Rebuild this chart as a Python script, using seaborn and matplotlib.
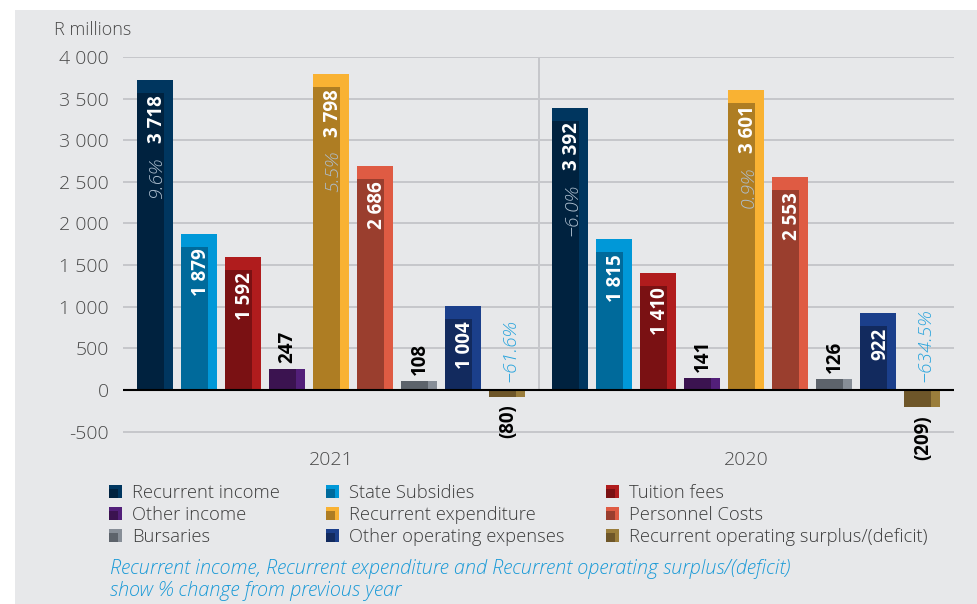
import matplotlib
matplotlib.use("Agg")
import matplotlib.pyplot as plt
from matplotlib.patches import Rectangle
from matplotlib.legend_handler import HandlerBase
import seaborn as sns
import pandas as pd

# ---------------- data ----------------
years = ["2021", "2020"]
categories = ["Recurrent income", "State Subsidies", "Tuition fees", "Other income",
              "Recurrent expenditure", "Personnel Costs", "Bursaries",
              "Other operating expenses", "Recurrent operating surplus/(deficit)"]
values_2021 = [3718, 1879, 1592, 247, 3798, 2686, 108, 1004, -80]
values_2020 = [3392, 1815, 1410, 141, 3601, 2553, 126, 922, -209]
value_labels_2021 = ["3 718", "1 879", "1 592", "247", "3 798", "2 686", "108", "1 004", "(80)"]
value_labels_2020 = ["3 392", "1 815", "1 410", "141", "3 601", "2 553", "126", "922", "(209)"]
pct_2021 = ["9.6%", None, None, None, "5.5%", None, None, None, "\u221261.6%"]
pct_2020 = ["\u22126.0%", None, None, None, "0.9%", None, None, None, "\u2212634.5%"]
yticks = [-500, 0, 500, 1000, 1500, 2000, 2500, 3000, 3500, 4000]
ytick_labels = ["-500", "0", "500", "1 000", "1 500", "2 000", "2 500", "3 000", "3 500", "4 000"]

light_colors = ["#00365f", "#0098d8", "#b01c1d", "#521f79", "#f9b233",
                "#df5b43", "#878e97", "#1b3f8b", "#9a7d3b"]
dark_colors = ["#00223f", "#006a9b", "#7a1113", "#3b1350", "#ae7d23",
               "#9a3e2e", "#5d636b", "#122a5e", "#6e5629"]

BG = "#e7e8ea"
FONT = "Open Sans"
LW = "light"

df = pd.DataFrame({
    "year": [y for y in years for _ in categories],
    "category": categories * 2,
    "value": values_2021 + values_2020,
})

plt.rcParams["font.family"] = [FONT, "DejaVu Sans"]

fig = plt.figure(figsize=(9.77, 6.04), dpi=100)
fig.patch.set_facecolor("white")
fig.patches.append(Rectangle((15 / 977, 0), 1 - 15 / 977, 1 - 10 / 604,
                             transform=fig.transFigure, facecolor=BG,
                             edgecolor="none", zorder=-10))

ax = fig.add_axes([123 / 977, 1 - 441.6 / 604, (954 - 123) / 977, (441.6 - 57) / 604])
ax.set_facecolor("none")

sns.barplot(data=df, x="year", y="value", hue="category", order=years,
            hue_order=categories, palette=light_colors, saturation=1,
            width=0.954, gap=0.18, linewidth=0, errorbar=None, legend=False,
            ax=ax, zorder=3)

ax.set_xlim(-0.5, 1.5)
ax.set_ylim(-620, 4000)

px_per_unit = (441.6 - 57) / (4000 + 620)
band = 13 / px_per_unit

labels_by_year = {"2021": value_labels_2021, "2020": value_labels_2020}
pct_by_year = {"2021": pct_2021, "2020": pct_2020}
vals_by_year = {"2021": values_2021, "2020": values_2020}

VFS = 13.5
PFS = 14

containers = list(ax.containers)
for ci, cont in enumerate(containers):
    for yi, bar in enumerate(cont):
        yr = years[yi]
        v = vals_by_year[yr][ci]
        x0 = bar.get_x()
        w = bar.get_width()
        top = v - band if v > 500 else v
        ax.bar(x0, top, width=w * 0.75, align="edge", color=dark_colors[ci],
               linewidth=0, zorder=4)
        xc = x0 + w / 2
        lab = labels_by_year[yr][ci]
        pct = pct_by_year[yr][ci]
        if v > 500:
            ax.annotate(lab, (xc, v), xytext=(2, -15), textcoords="offset pixels",
                        rotation=90, ha="center", va="top", color="white",
                        fontsize=VFS, fontweight="bold", zorder=6)
            if pct:
                ax.annotate(pct, (xc, v), xytext=(2, -77), textcoords="offset pixels",
                            rotation=90, ha="center", va="top", color="#aebfcf",
                            fontsize=PFS, fontstyle="italic", fontweight=LW, zorder=6)
        elif v >= 0:
            ax.annotate(lab, (xc, v), xytext=(1, 6), textcoords="offset pixels",
                        rotation=90, ha="center", va="bottom", color="black",
                        fontsize=VFS, fontweight="bold", zorder=6)
        else:
            ax.annotate(lab, (xc, v), xytext=(1, -8), textcoords="offset pixels",
                        rotation=90, ha="center", va="top", color="black",
                        fontsize=VFS, fontweight="bold", zorder=6)
            if pct:
                ax.annotate(pct, (xc, 0), xytext=(3, 8), textcoords="offset pixels",
                            rotation=90, ha="center", va="bottom", color="#27a3dc",
                            fontsize=PFS, fontstyle="italic", fontweight=LW, zorder=6)

# grid, zero line, divider
ax.set_yticks(yticks)
ax.set_yticklabels(ytick_labels)
for t in yticks:
    if t != 0:
        ax.axhline(t, color="#c6c7cb", lw=1.4, zorder=1)
ax.axhline(0, color="black", lw=1.5, zorder=5)
ax.vlines(0.5, 0, 4000, color="#c6c7cb", lw=1.4, zorder=1)

for s in ax.spines.values():
    s.set_visible(False)
ax.tick_params(axis="both", length=0, colors="#4a4a4a", labelsize=14)
ax.tick_params(axis="y", pad=10)
ax.tick_params(axis="x", pad=7)
for t in ax.get_yticklabels() + ax.get_xticklabels():
    t.set_fontweight(LW)
ax.set_xlabel("")
ax.set_ylabel("")

fig.text(131 / 977, 1 - 30 / 604, "R millions", ha="right", va="center",
         fontsize=13, color="#4a4a4a", fontweight=LW)


# ---------------- legend ----------------
class Swatch:
    def __init__(self, light, dark):
        self.light = light
        self.dark = dark


class SwatchHandler(HandlerBase):
    def create_artists(self, legend, orig_handle, xdescent, ydescent, width,
                       height, fontsize, trans):
        s = min(width, height)
        x0 = -xdescent
        y0 = -ydescent + (height - s) / 2
        r1 = Rectangle((x0, y0), s, s, facecolor=orig_handle.light,
                       edgecolor="none", transform=trans)
        r2 = Rectangle((x0, y0), s * 0.7, s * 0.7, facecolor=orig_handle.dark,
                       edgecolor="none", transform=trans)
        return [r1, r2]


swatches = [Swatch(l, d) for l, d in zip(light_colors, dark_colors)]
col_x = [109, 326, 606]
for c in range(3):
    idx = [c, c + 3, c + 6]
    leg = fig.legend([swatches[i] for i in idx], [categories[i] for i in idx],
                     handler_map={Swatch: SwatchHandler()},
                     loc="upper left", bbox_to_anchor=(col_x[c] / 977, 1 - 484 / 604),
                     bbox_transform=fig.transFigure, frameon=False, borderpad=0,
                     borderaxespad=0, handlelength=0.72, handleheight=0.72,
                     handletextpad=0.55, labelspacing=0.22,
                     labelcolor="#3c3c3c", prop={"weight": LW, "size": 13.2})

fig.text(110 / 977, 1 - 569 / 604,
         "Recurrent income, Recurrent expenditure and Recurrent operating surplus/(deficit)",
         ha="left", va="center", fontsize=14.3, color="#1b9ad7",
         fontstyle="italic", fontweight=LW)
fig.text(110 / 977, 1 - 591 / 604, "show % change from previous year",
         ha="left", va="center", fontsize=14.3, color="#1b9ad7",
         fontstyle="italic", fontweight=LW)

fig.savefig("out.png", dpi=100, facecolor=fig.get_facecolor())
